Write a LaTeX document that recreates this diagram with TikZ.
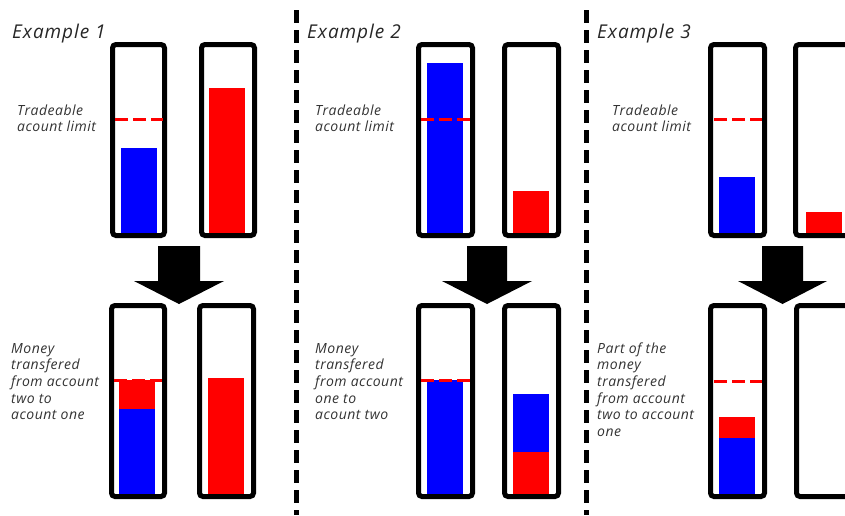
\documentclass[tikz,border=0pt]{standalone}
\usepackage{fontspec}
\setmainfont{Open Sans}
\begin{document}
\begin{tikzpicture}[x=1pt,y=-1pt,
  box/.style={draw=black, line width=5pt, rounded corners=3.5pt},
  lim/.style={draw=red, line width=3pt, dash pattern=on 12.5pt off 5.5pt},
  sep/.style={draw=black, line width=5pt, dash pattern=on 13pt off 7pt},
  arr/.style={fill=black},
  lbl/.style={anchor=base west, inner sep=0pt, text=black!80, font=\fontsize{14}{16.7}\selectfont\itshape\addfontfeature{LetterSpace=3.5}},
  ttl/.style={anchor=base west, inner sep=0pt, text=black!85, font=\fontsize{19}{22}\selectfont\itshape\addfontfeature{LetterSpace=5}}]
\useasboundingbox (0,0) rectangle (845,515);
\clip (0,0) rectangle (845,515);
\newcommand\acct[4]{\draw[box] (#1+2.5,#2+2.5) rectangle (#3-2.5,#4-2.5);}
\newcommand\transferarrow[4]{% shaft left, shaft right, head left, head right
  \fill[arr] (#1,246) -- (#2,246) -- (#2,281) -- (#4,281) -- ({(#3+#4)/2},304) -- (#3,281) -- (#1,281) -- cycle;}

% separators
\draw[sep] (296.5,10) -- (296.5,515);
\draw[sep] (586.5,10) -- (586.5,515);

% ---------- Example 1 ----------
\node[ttl] (t1) at (12,38) {Example 1};
\node[lbl] (l1) at (17,115) {\begin{tabular}[t]{@{}l@{}}Tradeable\\acount limit\end{tabular}};
\fill[blue] (121,148) rectangle (157,233);
\fill[red] (209,88) rectangle (245,233);
\acct{110}{42}{167}{238}
\acct{199}{42}{257}{238}
\draw[lim] (115,119) -- (163,119);
\transferarrow{158}{200}{134}{224}
\node[lbl] (m1) at (11,353) {\begin{tabular}[t]{@{}l@{}}Money\\transfered\\from account\\two to\\acount one\end{tabular}};
\fill[blue] (119,409) rectangle (155,495);
\fill[red] (119,380) rectangle (155,409);
\fill[red] (208,378) rectangle (244,495);
\acct{109}{303}{167}{499}
\acct{197}{303}{256}{499}
\draw[lim] (114,380.5) -- (162,380.5);

% ---------- Example 2 ----------
\node[ttl] (t2) at (307,38) {Example 2};
\node[lbl] (l2) at (315,115) {\begin{tabular}[t]{@{}l@{}}Tradeable\\acount limit\end{tabular}};
\fill[blue] (427,63) rectangle (463,233);
\fill[red] (513,191) rectangle (549,233);
\acct{416}{42}{475}{238}
\acct{502}{42}{561}{238}
\draw[lim] (421,119) -- (470,119);
\transferarrow{467}{507}{442}{532}
\node[lbl] (m2) at (315,353) {\begin{tabular}[t]{@{}l@{}}Money\\transfered\\from account\\one to\\acount two\end{tabular}};
\fill[blue] (427,380) rectangle (463,495);
\fill[blue] (513,394) rectangle (549,452);
\fill[red] (513,452) rectangle (549,495);
\acct{416}{303}{475}{499}
\acct{502}{303}{561}{499}
\draw[lim] (421,380.5) -- (470,380.5);

% ---------- Example 3 ----------
\node[ttl] (t3) at (597,38) {Example 3};
\node[lbl] (l3) at (612,115) {\begin{tabular}[t]{@{}l@{}}Tradeable\\acount limit\end{tabular}};
\fill[blue] (719,177) rectangle (755,233);
\fill[red] (806,212) rectangle (842,233);
\acct{708}{42}{767}{238}
\acct{793}{42}{852}{238}
\draw[lim] (714,119) -- (762,119);
\transferarrow{762}{803}{738}{827}
\node[lbl] (m3) at (597,353) {\begin{tabular}[t]{@{}l@{}}Part of the\\money\\transfered\\from account\\two to account\\one\end{tabular}};
\fill[blue] (719,438) rectangle (755,495);
\fill[red] (719,417) rectangle (755,438);
\acct{708}{303}{767}{499}
\acct{794}{303}{853}{499}
\draw[lim] (714,381) -- (762,381);
\end{tikzpicture}
\end{document}
